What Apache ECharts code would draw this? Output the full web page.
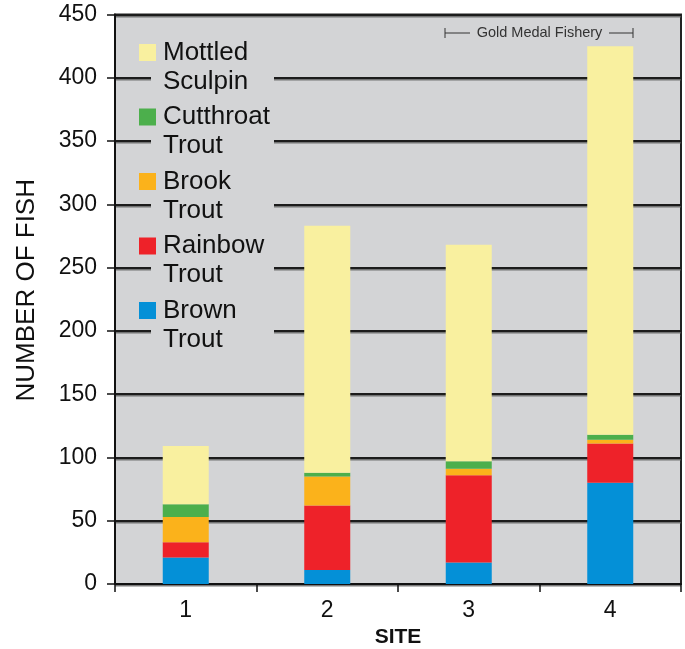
<!DOCTYPE html>
<html>
<head>
<meta charset="utf-8">
<script src="https://cdn.jsdelivr.net/npm/echarts@6/dist/echarts.min.js"></script>
<style>
html,body{margin:0;padding:0;background:#ffffff;}
#chart{width:685px;height:649px;}
</style>
</head>
<body>
<div id="chart"></div>
<script>
// ---- data ----
const sites = ['1', '2', '3', '4'];
const brownTrout = [21, 11, 17, 80];
const rainbowTrout = [12, 51, 69, 31];
const brookTrout = [20, 23, 5, 3];
const cutthroatTrout = [10, 3, 6, 4];
const mottledSculpin = [46, 195, 171, 307];
const seriesNames = ['Brown\nTrout', 'Rainbow\nTrout', 'Brook\nTrout', 'Cutthroat\nTrout', 'Mottled\nSculpin'];
const seriesColors = ['#0490d7', '#ee2229', '#fbb21b', '#4caf4c', '#f9f09f'];
const legendOrder = ['Mottled\nSculpin', 'Cutthroat\nTrout', 'Brook\nTrout', 'Rainbow\nTrout', 'Brown\nTrout'];
const yMin = 0, yMax = 450, yStep = 50;
const annotationText = 'Gold Medal Fishery';

const FONT = '"Liberation Sans", Arial, Helvetica, sans-serif';
const BG = '#d3d4d6';
const values = [brownTrout, rainbowTrout, brookTrout, cutthroatTrout, mottledSculpin];

const chart = echarts.init(document.getElementById('chart'), null, {renderer: 'canvas'});

const series = values.map((v, i) => ({
  name: seriesNames[i],
  type: 'bar',
  stack: 'fish',
  data: v,
  barWidth: 46,
  itemStyle: {color: seriesColors[i]},
  emphasis: {disabled: true}
}));

const option = {
  animation: false,
  backgroundColor: '#ffffff',
  textStyle: {fontFamily: FONT},
  grid: {
    left: 115, right: 4, top: 14.5, bottom: 65,
    show: true, backgroundColor: BG, borderColor: '#222', borderWidth: 2,
    containLabel: false,
    outerBoundsMode: 'none'
  },
  legend: {
    data: legendOrder,
    orient: 'vertical',
    left: 139, top: 9,
    padding: 0,
    itemWidth: 17, itemHeight: 17,
    itemGap: -22.5,
    icon: 'rect',
    selectedMode: false,
    formatter: name => '\n' + name,
    textStyle: {fontFamily: FONT, fontSize: 26, lineHeight: 29, color: '#111', padding: [0, 0, 0, 2]},
    z: 5
  },
  xAxis: {
    type: 'category',
    data: sites,
    name: 'SITE',
    nameLocation: 'middle',
    nameGap: 43,
    nameTextStyle: {fontFamily: FONT, fontSize: 21, fontWeight: 'bold', color: '#111'},
    axisLine: {lineStyle: {color: '#111', width: 2}},
    axisTick: {show: true, length: 8, lineStyle: {color: '#111', width: 1.5}},
    axisLabel: {fontFamily: FONT, fontSize: 23, color: '#111', margin: 15},
    splitLine: {show: false}
  },
  yAxis: {
    type: 'value',
    min: yMin, max: yMax, interval: yStep,
    name: 'NUMBER OF FISH',
    nameLocation: 'middle',
    nameGap: 75,
    nameTextStyle: {fontFamily: FONT, fontSize: 26, color: '#111', padding: [0, 0, 0, 18]},
    axisLine: {show: true, lineStyle: {color: '#111', width: 2}},
    axisTick: {show: true, length: 8, lineStyle: {color: '#111', width: 1.5}},
    axisLabel: {fontFamily: FONT, fontSize: 23, color: '#111', margin: 18},
    splitLine: {show: true, lineStyle: {color: '#1c1c1c', width: 2, shadowColor: 'rgba(90,90,90,0.8)', shadowOffsetY: 1.5, shadowBlur: 0}}
  },
  graphic: [
    {type: 'rect', z: 3, shape: {x: 151, y: 38, width: 123, height: 310}, style: {fill: BG}},
    {type: 'line', z: 6, shape: {x1: 445, y1: 33, x2: 470, y2: 33}, style: {stroke: '#333', lineWidth: 1}},
    {type: 'line', z: 6, shape: {x1: 445, y1: 28, x2: 445, y2: 38}, style: {stroke: '#333', lineWidth: 1}},
    {type: 'line', z: 6, shape: {x1: 609, y1: 33, x2: 633, y2: 33}, style: {stroke: '#333', lineWidth: 1}},
    {type: 'line', z: 6, shape: {x1: 633, y1: 28, x2: 633, y2: 38}, style: {stroke: '#333', lineWidth: 1}},
    {type: 'text', z: 6, x: 539.5, y: 33, style: {text: annotationText, fontFamily: FONT, fontSize: 14.5, fill: '#333', align: 'center', verticalAlign: 'middle'}}
  ],
  series: series
};
chart.setOption(option);
</script>
</body>
</html>
